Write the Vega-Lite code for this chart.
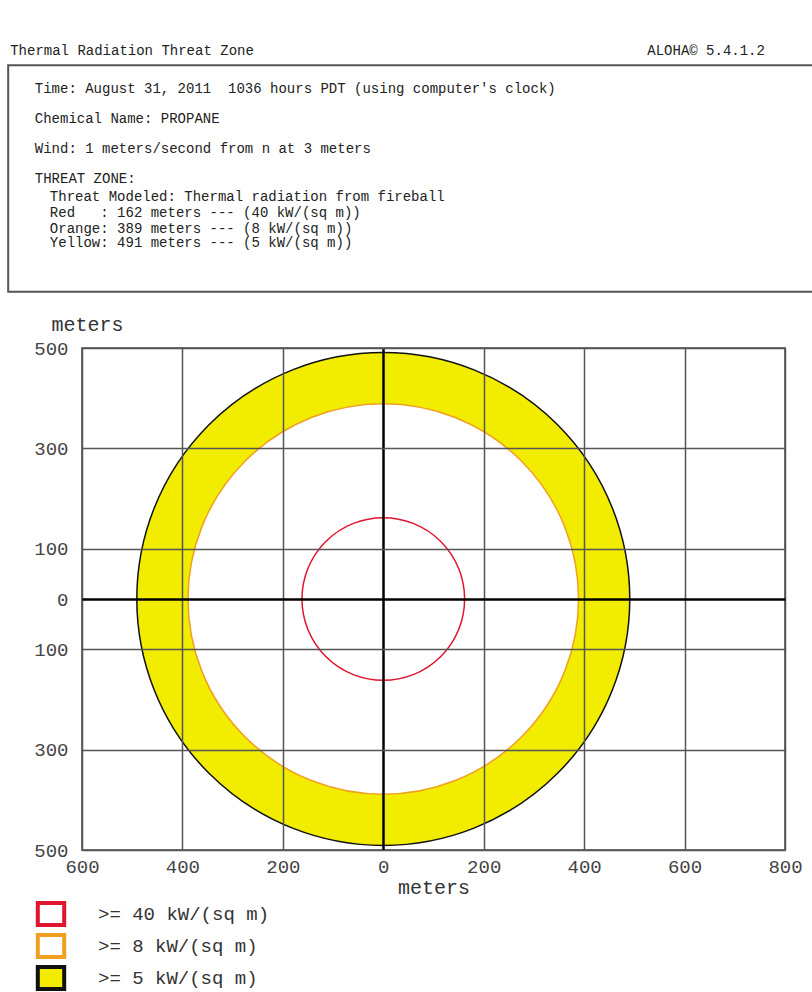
{
  "$schema": "https://vega.github.io/schema/vega-lite/v6.json",
  "width": 703,
  "height": 502,
  "autosize": "none",
  "padding": {"left": 82, "top": 348, "right": 27, "bottom": 142},
  "background": "white",
  "config": {
    "view": {"stroke": "#444", "strokeWidth": 1.5},
    "font": "Liberation Mono"
  },
  "datasets": {
    "zones": [
      {"zone": ">= 5 kW/(sq m)", "r": 491},
      {"zone": ">= 8 kW/(sq m)", "r": 389},
      {"zone": ">= 40 kW/(sq m)", "r": 162}
    ],
    "box": [
      {"x": -747, "x2": 900, "y": 1063, "y2": 612}
    ],
    "texts": [
      {"text": "Thermal Radiation Threat Zone", "x": -743, "y": 1092},
      {"text": "Time: August 31, 2011\u00a0\u00a01036 hours PDT (using computer's clock)", "x": -694, "y": 1016},
      {"text": "Chemical Name: PROPANE", "x": -694, "y": 956},
      {"text": "Wind: 1 meters/second from n at 3 meters", "x": -694, "y": 896},
      {"text": "THREAT ZONE:", "x": -694, "y": 837},
      {"text": "Threat Modeled: Thermal radiation from fireball", "x": -664, "y": 801},
      {"text": "Red\u00a0\u00a0\u00a0: 162 meters --- (40 kW/(sq m))", "x": -664, "y": 769},
      {"text": "Orange: 389 meters --- (8 kW/(sq m))", "x": -664, "y": 737},
      {"text": "Yellow: 491 meters --- (5 kW/(sq m))", "x": -664, "y": 709}
    ],
    "brand": [
      {"text": "ALOHA© 5.4.1.2", "x": 760, "y": 1092}
    ]
  },
  "layer": [
    {
      "data": {"name": "zones"},
      "mark": {"type": "arc", "theta": 0, "theta2": 6.2832, "strokeWidth": 1.5},
      "encoding": {
        "x": {
          "datum": 0, "type": "quantitative",
          "scale": {"domain": [-600, 800], "nice": false, "zero": false},
          "axis": {
            "values": [-600, -400, -200, 0, 200, 400, 600, 800],
            "labelExpr": "abs(datum.value)",
            "title": "meters",
            "titleFont": "Liberation Mono", "titleFontSize": 20, "titleFontWeight": "normal", "titleColor": "#333",
            "titleBaseline": "alphabetic", "titleY": 43,
            "labelFont": "Liberation Mono", "labelFontSize": 19, "labelColor": "#444",
            "labelFlush": false, "labelOverlap": false, "labelPadding": 7,
            "ticks": false, "domain": false,
            "grid": true, "zindex": 1,
            "gridColor": {"condition": {"test": "datum.value === 0", "value": "#000"}, "value": "#555"},
            "gridWidth": {"condition": {"test": "datum.value === 0", "value": 2.5}, "value": 1.5}
          }
        },
        "y": {
          "datum": 0, "type": "quantitative",
          "scale": {"domain": [-500, 500], "nice": false, "zero": false},
          "axis": {
            "values": [-500, -300, -100, 0, 100, 300, 500],
            "labelExpr": "abs(datum.value)",
            "title": "meters",
            "titleFont": "Liberation Mono", "titleFontSize": 20, "titleFontWeight": "normal", "titleColor": "#333",
            "titleAngle": 0, "titleAlign": "center", "titleBaseline": "alphabetic", "titleX": 5, "titleY": -18,
            "labelFont": "Liberation Mono", "labelFontSize": 19, "labelColor": "#444",
            "labelFlush": false, "labelOverlap": false, "labelPadding": 14,
            "ticks": false, "domain": false,
            "grid": true, "zindex": 1,
            "gridColor": {"condition": {"test": "datum.value === 0", "value": "#000"}, "value": "#555"},
            "gridWidth": {"condition": {"test": "datum.value === 0", "value": 2.5}, "value": 1.5}
          }
        },
        "radius": {
          "field": "r", "type": "quantitative", "stack": null,
          "scale": {"type": "linear", "domain": [0, 500], "range": [0, 251], "zero": true}
        },
        "fill": {
          "field": "zone", "type": "nominal",
          "scale": {"domain": [">= 40 kW/(sq m)", ">= 8 kW/(sq m)", ">= 5 kW/(sq m)"], "range": ["#ffffff", "#ffffff", "#f2ec00"]},
          "legend": {
            "title": null, "orient": "none", "legendX": -44, "legendY": 553,
            "symbolType": "M-1.2,-1H1.2V1H-1.2Z", "symbolSize": 484, "symbolStrokeWidth": 4,
            "labelFont": "Liberation Mono", "labelFontSize": 19, "labelColor": "#333", "labelLimit": 0,
            "labelOffset": 34, "rowPadding": -11
          }
        },
        "stroke": {
          "field": "zone", "type": "nominal",
          "scale": {"domain": [">= 40 kW/(sq m)", ">= 8 kW/(sq m)", ">= 5 kW/(sq m)"], "range": ["#e01530", "#f0a020", "#111111"]},
          "legend": {
            "title": null, "orient": "none", "legendX": -44, "legendY": 553,
            "symbolType": "M-1.2,-1H1.2V1H-1.2Z", "symbolSize": 484, "symbolStrokeWidth": 4,
            "labelFont": "Liberation Mono", "labelFontSize": 19, "labelColor": "#333", "labelLimit": 0,
            "labelOffset": 34, "rowPadding": -11
          }
        }
      }
    },
    {
      "data": {"name": "box"},
      "mark": {"type": "rect", "fill": null, "stroke": "#555", "strokeWidth": 2},
      "encoding": {
        "x": {"field": "x", "type": "quantitative"},
        "x2": {"field": "x2"},
        "y": {"field": "y", "type": "quantitative"},
        "y2": {"field": "y2"}
      }
    },
    {
      "data": {"name": "texts"},
      "mark": {"type": "text", "align": "left", "baseline": "middle", "font": "Liberation Mono", "fontSize": 14, "color": "#222"},
      "encoding": {
        "x": {"field": "x", "type": "quantitative"},
        "y": {"field": "y", "type": "quantitative"},
        "text": {"field": "text"}
      }
    },
    {
      "data": {"name": "brand"},
      "mark": {"type": "text", "align": "right", "baseline": "middle", "font": "Liberation Mono", "fontSize": 14, "color": "#222"},
      "encoding": {
        "x": {"field": "x", "type": "quantitative"},
        "y": {"field": "y", "type": "quantitative"},
        "text": {"field": "text"}
      }
    }
  ]
}
